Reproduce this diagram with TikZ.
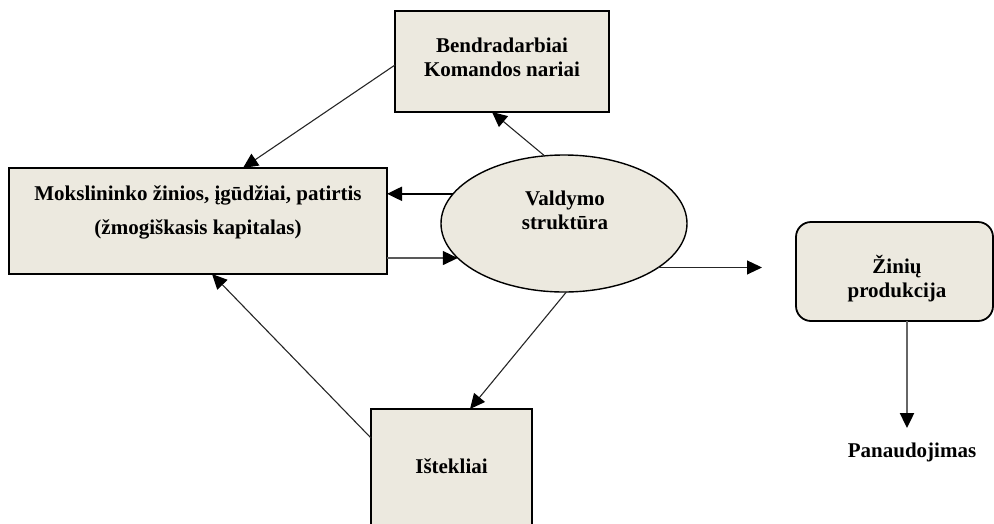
\documentclass[tikz,border=0pt]{standalone}
\usepackage{fontspec}
\setmainfont{Liberation Serif}
\usetikzlibrary{arrows.meta,calc,shapes.geometric}
\definecolor{boxfill}{RGB}{236,233,223}
\begin{document}
\begin{tikzpicture}[x=1pt,y=-1pt,
  box/.style={draw=black,line width=1.8pt,fill=boxfill,inner sep=0pt,outer sep=0pt},
  oval/.style={ellipse,draw=black,line width=1.4pt,fill=boxfill,inner sep=0pt,outer sep=0pt},
  lbl/.style={font=\bfseries\fontsize{21}{24}\selectfont,align=center,inner sep=0pt},
  link/.style={draw=black!85,line width=1.1pt,-{Triangle[length=15pt,width=14pt,color=black]}},
]
\useasboundingbox (0,0) rectangle (994,523);

% shapes
\node[box,minimum width=214pt,minimum height=101pt] (tb) at (502,61.5) {};
\node[box,minimum width=378pt,minimum height=106pt] (lb) at (198,221) {};
\node[oval,minimum width=246pt,minimum height=137pt] (el) at (564,223.5) {};
\node[box,minimum width=161pt,minimum height=118pt] (is) at (451.5,468) {};
\node[box,rounded corners=15pt,minimum width=197pt,minimum height=99pt] (rb) at (894.5,271.5) {};

% labels
\node[lbl] (tbt) at (502,57) {Bendradarbiai\\Komandos nariai};
\node[lbl,font=\bfseries\fontsize{21}{34}\selectfont] (lbt) at (198,212) {Mokslininko žinios, įgūdžiai, patirtis\\(žmogiškasis kapitalas)};
\node[lbl] (elt) at (565,210) {Valdymo\\struktūra};
\node[lbl] (rbt) at (897,279) {Žinių\\produkcija};
\node[lbl,anchor=base] (ist) at (451.5,473) {Ištekliai};
\node[lbl,anchor=base] (pan) at (912,457) {Panaudojimas};

% connectors
\coordinate (out) at (762,267);
\coordinate (use) at (907,428);
\draw[link] ($(tb.west)+(0,3.5)$) -- ($(lb.north west)+(234,0)$);
\draw[link] (el.106) -- ($(tb.south)+(-10,0)$);
\draw[link,line width=2pt,draw=black] (el.165) -- (el.165 -| lb.east);
\draw[link,draw=black!65,line width=1.4pt] (el.198 -| lb.east) -- (el.198);
\draw[link] (el.335) -- (el.335 -| out);
\draw[link] (el.272) -- ($(is.north)+(18.5,0)$);
\draw[link] ($(is.north west)+(0,29)$) -- ($(lb.south west)+(203,0)$);
\draw[link,draw=black!60,line width=2.4pt] ($(rb.south)+(12.5,0)$) -- (use);
\end{tikzpicture}
\end{document}
